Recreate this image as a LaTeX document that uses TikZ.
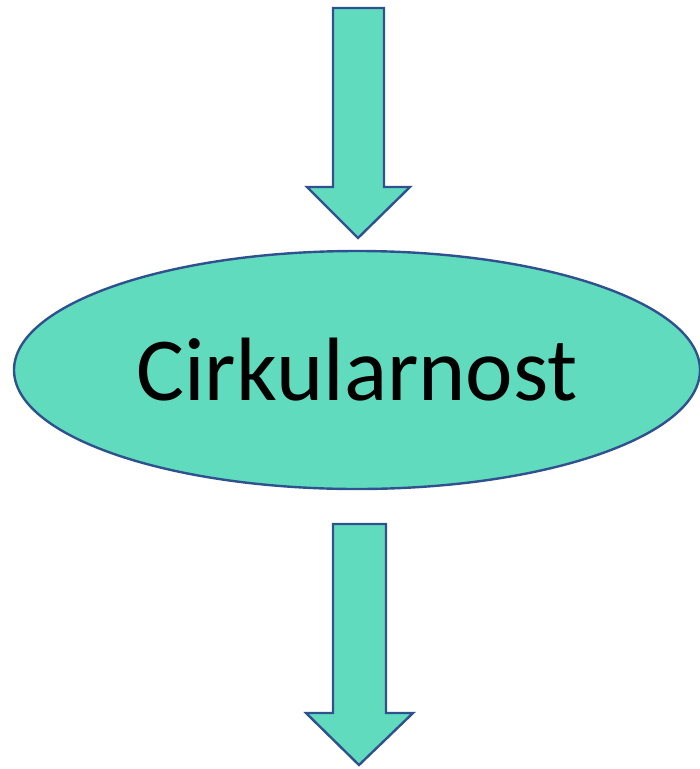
\documentclass[tikz,border=0pt]{standalone}
\usepackage{fontspec}
\setmainfont{Carlito}
\usetikzlibrary{shapes.geometric}
\definecolor{cirkfill}{HTML}{61DBBD}
\definecolor{cirkline}{HTML}{2F528F}
\tikzset{
  blockarrow/.style={
    fill=cirkfill, draw=cirkline, line width=2.4pt, line join=miter
  },
  cirkel/.style={
    ellipse, minimum width=686pt, minimum height=238pt, inner sep=0pt,
    fill=cirkfill, draw=cirkline, line width=2.4pt,
    font=\fontsize{90}{100}\selectfont
  }
}
\begin{document}
\begin{tikzpicture}[x=1pt, y=-1pt]
  \useasboundingbox (0,0) rectangle (700,769);

  % Top arrow
  \coordinate (intip) at (358,238);
  \draw[blockarrow] (333,8) -- (384,8) -- (384,187) -- (410,187) -- (intip)
    -- (307,187) -- (333,187) -- cycle;

  % Ellipse
  \node[cirkel] (cirk) at (357,370) {Cirkularnost};

  % Bottom arrow
  \coordinate (outtip) at (359,765);
  \draw[blockarrow] (333,524) -- (386,524) -- (386,713) -- (413,713) -- (outtip)
    -- (306,713) -- (333,713) -- cycle;
\end{tikzpicture}
\end{document}
